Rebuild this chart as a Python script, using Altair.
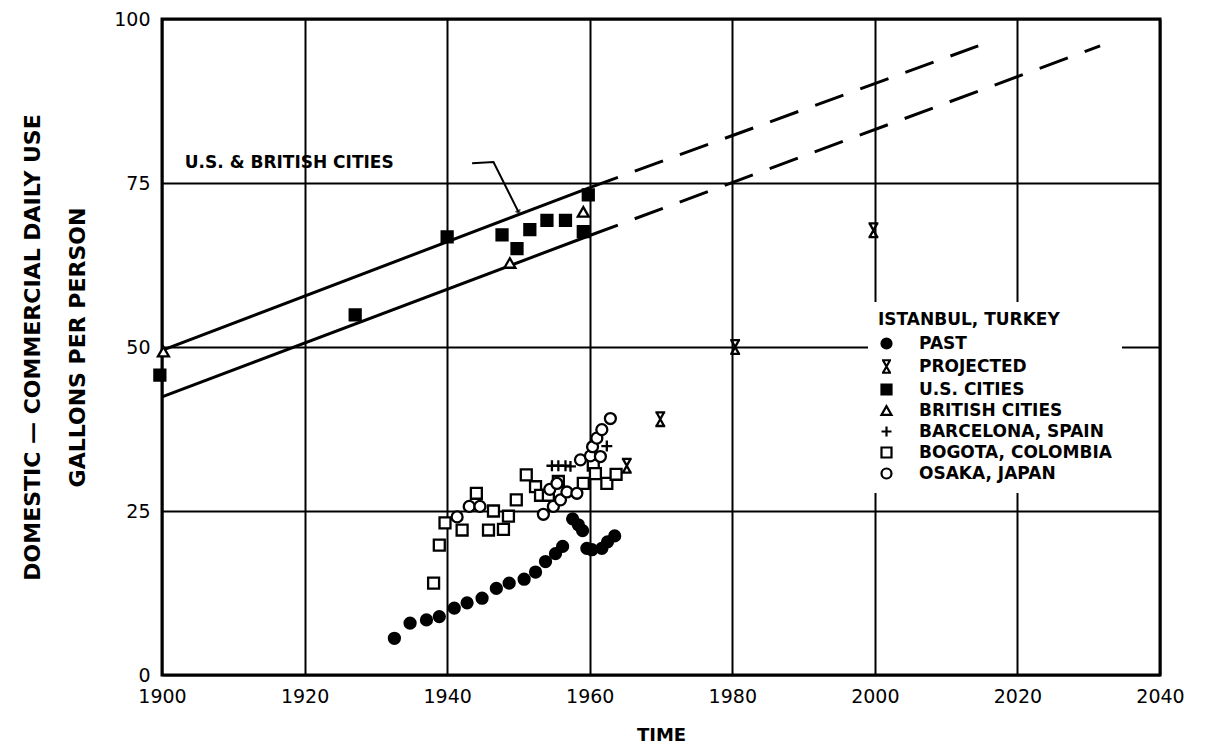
import altair as alt
import pandas as pd

# ---------------- data ----------------
past_year = [1932.6, 1934.8, 1937.1, 1938.9, 1941.0, 1942.8, 1944.9, 1946.9, 1948.7, 1950.8,
             1952.4, 1953.8, 1955.2, 1956.2, 1957.6, 1958.4, 1959.0, 1959.6, 1960.3, 1961.7,
             1962.5, 1963.5]
past_val = [5.6, 7.9, 8.4, 8.9, 10.2, 11.0, 11.7, 13.2, 14.0, 14.6,
            15.7, 17.3, 18.5, 19.6, 23.8, 22.9, 22.0, 19.3, 19.1, 19.3,
            20.3, 21.2]

proj_year = [1965.2, 1969.9, 1980.4, 1999.8]
proj_val = [31.9, 39.0, 50.0, 67.8]

us_year = [1899.7, 1927.1, 1940.0, 1947.7, 1949.8, 1951.6, 1954.0, 1956.6, 1959.1, 1959.8]
us_val = [45.7, 54.9, 66.8, 67.1, 65.0, 67.9, 69.3, 69.3, 67.6, 73.2]

brit_year = [1900.2, 1948.8, 1959.1]
brit_val = [49.3, 62.8, 70.6]

barc_year = [1954.7, 1955.6, 1956.6, 1957.3, 1962.4]
barc_val = [31.9, 31.9, 31.9, 31.8, 34.9]

bog_year = [1938.1, 1938.9, 1939.7, 1942.1, 1944.1, 1945.8, 1946.5, 1947.9, 1948.6, 1949.7,
            1951.1, 1952.4, 1953.1, 1954.2, 1955.6, 1959.1, 1960.5, 1960.8, 1962.4, 1963.7]
bog_val = [14.0, 19.8, 23.2, 22.1, 27.7, 22.1, 25.0, 22.2, 24.2, 26.7,
           30.5, 28.7, 27.4, 27.4, 29.5, 29.2, 32.0, 30.7, 29.2, 30.6]

osaka_year = [1941.4, 1943.1, 1944.6, 1953.5, 1954.9, 1955.9, 1956.8, 1958.2, 1954.4, 1955.4,
              1958.7, 1960.1, 1961.5, 1960.4, 1961.0, 1961.7, 1962.9]
osaka_val = [24.1, 25.7, 25.7, 24.5, 25.7, 26.7, 27.9, 27.7, 28.3, 29.2,
             32.8, 33.4, 33.3, 34.8, 36.1, 37.4, 39.1]

# band of U.S. & British cities (solid = observed, dashed = projected)
solid_years = [1900, 1960]
upper_solid = [49.5, 74.3]
lower_solid = [42.4, 67.0]
upper_dash_years = [1960, 2014.5]
upper_dash = [74.3, 95.9]
lower_dash_years = [1960, 2031.6]
lower_dash = [67.0, 95.9]

# annotation
note_text = "U.S. & BRITISH CITIES"
note_x = [1903.2]
note_y = [78.0]
leader_x = [1943.5, 1946.5, 1950.0]
leader_y = [78.0, 78.2, 70.6]

series_names = ["PAST", "PROJECTED", "U.S. CITIES", "BRITISH CITIES",
                "BARCELONA, SPAIN", "BOGOTA, COLOMBIA", "OSAKA, JAPAN"]
x_ticks = [1900, 1920, 1940, 1960, 1980, 2000, 2020, 2040]
y_ticks = [0, 25, 50, 75, 100]

# ---------------- tables ----------------
groups = [(past_year, past_val), (proj_year, proj_val), (us_year, us_val),
          (brit_year, brit_val), (barc_year, barc_val), (bog_year, bog_val),
          (osaka_year, osaka_val)]
rows = []
for name, (ys, vs) in zip(series_names, groups):
    for yr, v in zip(ys, vs):
        rows.append({"series": name, "year": yr, "value": v})
pts = pd.DataFrame(rows)

solid = pd.DataFrame(
    [{"line": "upper", "year": a, "value": b} for a, b in zip(solid_years, upper_solid)] +
    [{"line": "lower", "year": a, "value": b} for a, b in zip(solid_years, lower_solid)])
dashed = pd.DataFrame(
    [{"line": "upper", "year": a, "value": b} for a, b in zip(upper_dash_years, upper_dash)] +
    [{"line": "lower", "year": a, "value": b} for a, b in zip(lower_dash_years, lower_dash)])
leader = pd.DataFrame({"year": leader_x, "value": leader_y, "o": list(range(len(leader_x)))})
note = pd.DataFrame({"year": note_x, "value": note_y, "t": [note_text]})
tip = pd.DataFrame({"year": leader_x[-1:], "value": leader_y[-1:]})

FONT = "DejaVu Sans"

xs = alt.Scale(domain=[1900, 2040], nice=False, zero=False)
ysc = alt.Scale(domain=[0, 100], nice=False)

x_enc = alt.X("year:Q", scale=xs, title="TIME",
              axis=alt.Axis(values=x_ticks, format="d", labelFlush=False, labelOverlap=False,
                            labelPadding=12, titlePadding=20, titleFontSize=18,
                            titleFontWeight="bold"))
y_enc = alt.Y("value:Q", scale=ysc,
              title=["DOMESTIC — COMMERCIAL DAILY USE", "GALLONS PER PERSON"],
              axis=alt.Axis(values=y_ticks, labelPadding=12, titlePadding=24,
                            titleFontSize=22, titleFontWeight="bold", titleLineHeight=45,
                            labelFlush=False, labelOverlap=False))

solid_layer = alt.Chart(solid).mark_line(color="black", strokeWidth=3).encode(
    x=x_enc, y=y_enc, detail="line:N")
dash_layer = alt.Chart(dashed).mark_line(color="black", strokeWidth=3, strokeDash=[30, 18]).encode(
    x="year:Q", y="value:Q", detail="line:N")
leader_layer = alt.Chart(leader).mark_line(color="black", strokeWidth=2).encode(
    x="year:Q", y="value:Q", order="o:Q")
tip_layer = alt.Chart(tip).mark_point(shape="triangle", angle=154, filled=True, color="black",
                                      size=40).encode(x="year:Q", y="value:Q")
note_layer = alt.Chart(note).mark_text(align="left", baseline="middle", font=FONT,
                                       fontSize=17, fontWeight="bold", color="black").encode(
    x="year:Q", y="value:Q", text="t:N")

shapes = ["circle",
          "M -0.9 -1.25 L 0.9 -1.25 M -0.7 -1.25 L 0.7 1.25 M 0.7 -1.25 L -0.7 1.25 M -0.9 1.25 L 0.9 1.25",
          "square", "triangle-up", "M -1 0 L 1 0 M 0 -1 L 0 1", "square", "circle"]
fills = ["black", "black", "black", "white", "black", "white", "white"]
strokes = ["black"] * 7
legend_title = "\u00a0" * 7 + "ISTANBUL, TURKEY"

leg = alt.Legend(orient="none", legendX=706, legendY=283, title=legend_title,
                 fillColor="white", padding=10, titleFont=FONT, titleFontSize=17,
                 titleFontWeight="bold", titleColor="black", titlePadding=6, titleLimit=400,
                 labelFont=FONT, labelFontSize=17, labelFontWeight="bold", labelColor="black",
                 labelLimit=400, labelOffset=24, rowPadding=2, symbolSize=100,
                 symbolStrokeWidth=2.2, symbolOpacity=1)

point_layer = alt.Chart(pts).mark_point(filled=True, size=120, strokeWidth=2.3,
                                        opacity=1).encode(
    x="year:Q", y="value:Q",
    shape=alt.Shape("series:N", scale=alt.Scale(domain=series_names, range=shapes), legend=leg,
                    title=legend_title),
    fill=alt.Fill("series:N", scale=alt.Scale(domain=series_names, range=fills), legend=leg,
                  title=legend_title),
    stroke=alt.Stroke("series:N", scale=alt.Scale(domain=series_names, range=strokes), legend=leg,
                      title=legend_title),
)

chart = alt.layer(solid_layer, dash_layer, leader_layer, tip_layer, note_layer, point_layer).properties(
    width=998, height=656,
    autosize=alt.AutoSizeParams(type="none"),
    padding={"left": 154, "top": 11, "right": 41, "bottom": 69},
    background="white",
).configure_view(stroke="black", strokeWidth=3).configure_axis(
    grid=True, gridColor="black", gridWidth=2, gridOpacity=1, domain=False, ticks=False,
    labelFont=FONT, labelFontSize=19, labelColor="black", titleFont=FONT, titleColor="black",
)

chart.save("out.html", embed_options={"renderer": "svg", "actions": False})
